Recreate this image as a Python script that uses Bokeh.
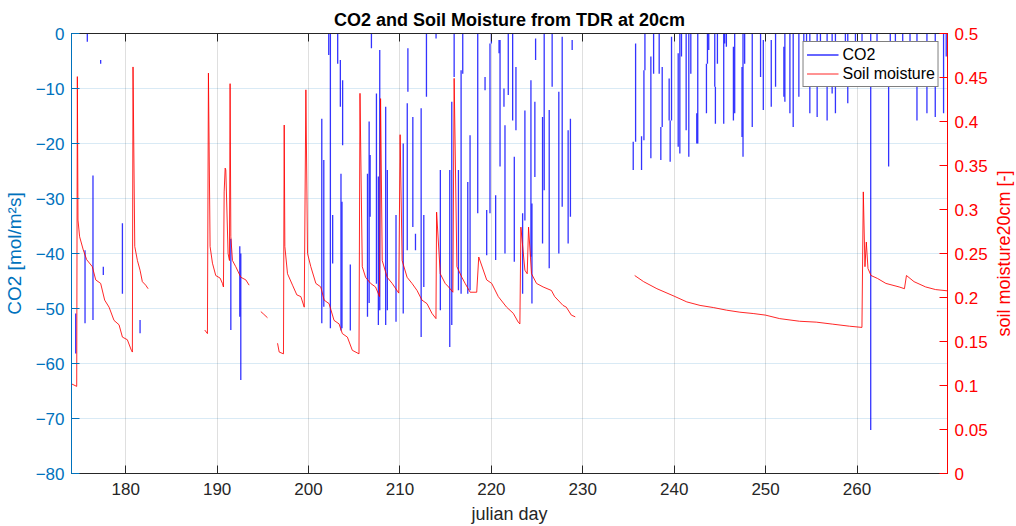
import math
from bokeh.plotting import figure
from bokeh.layouts import row
from bokeh.models import (Range1d, LinearAxis, FixedTicker, NumeralTickFormatter,
                          Legend, LegendItem, ColumnDataSource, Title)
from bokeh.embed import file_html
from bokeh.resources import INLINE

nan = float("nan")

# ---------------- data ----------------
# CO2 flux: each recorded burst shown as a vertical excursion (day, lowest, highest)
co2_day = [174.53, 175.55, 175.80, 176.42, 177.26, 177.55, 179.64, 181.57, 191.50, 192.48,
           192.59, 201.45, 201.67, 202.21, 202.39, 202.64, 203.19, 203.48, 203.55, 203.66,
           203.73, 204.57, 206.45, 206.63, 206.74, 206.88, 207.43, 207.64, 207.79, 208.44,
           208.62, 209.57, 210.36, 210.80, 210.87, 211.41, 211.70, 212.32, 212.61, 212.90,
           213.95, 214.42, 215.45, 215.67, 215.93, 216.40, 216.69, 216.87, 217.42, 217.67,
           218.51, 219.31, 219.49, 219.85, 220.00, 220.47, 220.84, 220.95, 221.38, 221.49,
           221.85, 222.33, 222.51, 222.69, 223.42, 223.67, 224.33, 224.44, 224.76, 224.84,
           225.60, 225.78, 226.33, 226.65, 227.38, 227.75, 228.40, 228.65, 228.84,
           235.52, 235.78, 236.43, 236.69, 236.80, 237.45, 237.75, 238.36, 238.54, 238.69,
           239.45, 239.56, 239.71, 240.44, 240.62, 240.80, 241.31, 241.60, 241.82, 242.47,
           242.58, 243.53, 243.64, 243.78, 244.44, 244.51, 244.73, 245.42, 245.53, 245.71,
           246.48, 246.62, 247.42, 247.53, 247.71, 248.54, 249.45, 249.75, 250.62, 251.09,
           252.00, 252.11, 252.66, 253.02, 253.64, 254.18, 254.48, 254.84, 255.64, 256.00,
           256.73, 257.28, 257.64, 258.73, 258.99, 259.83, 260.55, 261.50, 262.19, 263.46,
           263.64, 264.20, 265.00, 265.80, 266.56, 267.65, 268.56, 269.47, 269.76]
co2_low = [-58.2, -52.7, -1.5, -52.1, -5.5, -43.9, -47.3, -54.5, -53.9, -51.5,
           -63.0, -52.7, -49.7, -3.9, -53.6, -41.8, -5.5, -13.3, -54.0, -53.6,
           -20.3, -54.0, -51.5, -49.0, -33.3, -2.7, -45.5, -53.0, -50.3, -53.0,
           -50.3, -52.4, -50.9, -39.4, -10.6, -35.2, -39.4, -55.2, -46.1, -11.5,
           -0.9, -50.3, -57.0, -53.0, -7.9, -46.7, -47.3, -7.3, -47.3, -46.7,
           -32.7, -10.3, -40.3, -32.7, -1.8, -41.2, -3.6, -24.2, -13.3, -40.0,
           -11.2, -15.8, -41.5, -17.6, -47.3, -34.0, -40.6, -49.1, -26.1, -4.8,
           -38.2, -28.5, -42.7, -9.7, -40.0, -31.5, -38.2, -33.3, -3.0,
           -24.8, -19.7, -24.8, -19.4, -6.7, -22.7, -7.3, -7.3, -23.0, -17.0,
           -15.8, -23.3, -15.8, -20.6, -21.8, -4.2, -17.6, -22.4, -7.3, -20.0,
           -20.0, -14.5, -5.5, -3.0, -9.7, -16.4, -5.5, -16.4, -1.8, -2.4,
           -15.8, -14.5, -18.8, -22.4, -5.5, -17.0, -7.9, -13.9, -13.3, -9.7,
           -11.5, -12.4, -14.5, -17.0, -11.5, -9.7, -6.7, -14.5, -15.2, -9.1,
           -15.8, -10.9, -14.5, -9.1, -12.7, -9.7, -9.7, -72.1, -9.7, -24.2,
           -8.5, -3.0, -2.4, -3.0, -15.8, -14.5, -15.2, -14.5, -4.2]
co2_high = [-50.9, -39.4, 0.0, -25.8, -4.8, -42.4, -34.5, -52.1, -37.3, -38.7,
            -40.0, -15.5, -23.0, 0.0, 0.0, -33.0, 0.0, -4.8, -25.5, -30.6,
            -8.5, -42.0, -25.5, -16.0, -22.1, 0.0, -10.9, -26.0, -3.0, -13.3,
            -24.8, -33.0, -20.0, -12.7, -2.7, -15.2, -36.4, -13.6, -33.0, 0.0,
            0.0, -24.8, -24.8, -12.4, 0.0, -24.8, -6.7, 0.0, -27.0, -18.5,
            0.0, -7.9, -32.1, -1.8, 0.0, -29.4, -1.2, -1.2, -10.0, -16.7,
            0.0, 0.0, -22.4, -6.1, -32.7, -14.0, -8.5, -30.9, -12.4, -0.9,
            -15.2, 0.0, -13.9, 0.0, -10.6, -0.6, -17.6, -15.5, -1.2,
            -19.7, -1.8, -18.7, -6.7, 0.0, -4.2, 0.0, 0.0, -17.0, -6.1,
            -8.2, -15.8, -0.6, -3.6, 0.0, 0.0, 0.0, 0.0, 0.0, -14.5,
            0.0, -5.5, 0.0, 0.0, 0.0, -9.7, 0.0, 0.0, 0.0, 0.0,
            -2.4, 0.0, -6.1, 0.0, 0.0, 0.0, 0.0, -1.2, -1.2, 0.0,
            -2.4, 0.0, 0.0, 0.0, 0.0, 0.0, 0.0, 0.0, 0.0, 0.0,
            0.0, 0.0, 0.0, 0.0, 0.0, 0.0, 0.0, 0.0, 0.0, -8.5,
            0.0, 0.0, 0.0, 0.0, 0.0, 0.0, 0.0, 0.0, 0.0]

# soil moisture at 20 cm (gaps = missing data)
soil_day = [174.05, 174.64, 174.71, 174.78, 174.96, 175.36, 175.73, 176.35, 176.72, 177.26,
            177.70, 178.18, 178.72, 179.27, 179.64, 180.18, 180.62, 180.73, 180.80, 180.99,
            181.28, 181.57, 181.82, 182.19, 182.45, nan,
            188.65, 188.94, 189.05, 189.23, 189.49, 189.85, 190.33, 190.58, 190.69, 190.77,
            190.88, 190.95, 191.20, 191.35, 191.42, 191.50, 191.68, 192.04, 192.59, 193.14,
            193.50, nan,
            194.78, 195.10, 195.51, nan,
            196.61, 196.79, 197.26, 197.34, 197.41, 197.70, 198.25, 198.72, 199.16, 199.53,
            199.71, 199.89, 200.25, 200.80, 201.34, 201.71, 202.25, 202.79, 203.34, 203.70,
            204.25, 204.79, 205.52, 205.63, 205.88, 206.24, 206.79, 207.33, 207.77, 207.88,
            208.06, 208.60, 209.15, 209.87, 210.02, 210.24, 210.78, 211.32, 211.87, 212.41,
            212.96, 213.50, 213.94, 214.01, 214.41, 214.95, 215.32, 215.79, 215.93, 216.23,
            216.77, 217.13, 217.68, 218.40, 218.62, 219.49, 220.04, 220.76, 221.67, 222.40,
            222.94, 223.12, 223.23, 223.67, 223.92, 224.07, 224.39, 224.94, 225.66, 226.57,
            226.93, 227.84, 228.20, 228.75, 229.18, nan,
            235.68, 236.66, 238.11, 240.00, 241.38, 242.83, 244.28, 245.74, 247.19, 248.64,
            249.98, 251.54, 253.72, 255.54, 257.35, 259.17, 260.54, 260.69, 260.87, 261.02,
            261.20, 261.53, 262.25, 263.16, 264.61, 265.19, 265.41, 266.24, 267.51, 268.60,
            269.87]
soil_val = [0.102, 0.099, 0.451, 0.288, 0.269, 0.254, 0.243, 0.235, 0.220, 0.216,
            0.197, 0.189, 0.174, 0.169, 0.155, 0.152, 0.140, 0.138, 0.462, 0.258,
            0.242, 0.231, 0.218, 0.214, 0.210, nan,
            0.163, 0.159, 0.455, 0.258, 0.239, 0.225, 0.222, 0.216, 0.212, 0.320,
            0.347, 0.345, 0.250, 0.242, 0.443, 0.269, 0.242, 0.235, 0.223, 0.220,
            0.214, nan,
            0.184, 0.181, 0.177, nan,
            0.148, 0.138, 0.136, 0.396, 0.258, 0.227, 0.214, 0.203, 0.201, 0.189,
            0.436, 0.250, 0.235, 0.216, 0.212, 0.197, 0.193, 0.174, 0.170, 0.159,
            0.155, 0.140, 0.136, 0.432, 0.235, 0.223, 0.216, 0.212, 0.201, 0.426,
            0.242, 0.223, 0.216, 0.205, 0.385, 0.242, 0.223, 0.216, 0.208, 0.197,
            0.193, 0.182, 0.176, 0.297, 0.227, 0.216, 0.212, 0.206, 0.449, 0.235,
            0.223, 0.216, 0.206, 0.206, 0.246, 0.220, 0.216, 0.201, 0.189, 0.182,
            0.172, 0.170, 0.280, 0.231, 0.227, 0.280, 0.227, 0.216, 0.212, 0.208,
            0.201, 0.191, 0.189, 0.180, 0.178, nan,
            0.225, 0.218, 0.210, 0.2015, 0.195, 0.191, 0.1886, 0.1856, 0.1833, 0.1818,
            0.180, 0.176, 0.173, 0.172, 0.1697, 0.1674, 0.166, 0.320, 0.235, 0.263,
            0.233, 0.225, 0.2216, 0.216, 0.212, 0.210, 0.225, 0.218, 0.212, 0.209,
            0.2076]

x_ticks = [180, 190, 200, 210, 220, 230, 240, 250, 260]
co2_ticks = [-80, -70, -60, -50, -40, -30, -20, -10, 0]
soil_ticks = [0, 0.05, 0.1, 0.15, 0.2, 0.25, 0.3, 0.35, 0.4, 0.45, 0.5]

# ---------------- styling ----------------
FONT = "Liberation Sans"
LEFT_C = "#0072BD"
RIGHT_C = "#FF0000"
DARK = "#262626"

H = 526
STRIP_W = 26          # narrow strip on the right carrying the right-axis title
MAIN_W = 1016 - STRIP_W
BL, BR, BT, BB = 71, 42, 33, 53

p = figure(width=MAIN_W, height=H,
           x_range=Range1d(174.07, 269.9), y_range=Range1d(-80, 0),
           output_backend="svg", toolbar_location=None,
           min_border_left=BL, min_border_right=BR,
           min_border_top=BT, min_border_bottom=BB,
           background_fill_color="white", border_fill_color="white")
p.extra_y_ranges = {"soil": Range1d(0, 0.5)}
p.outline_line_color = DARK
p.outline_line_width = 1

p.title.text = "CO2 and Soil Moisture from TDR at 20cm"
p.title.align = "center"
p.title.text_font = FONT
p.title.text_font_size = "18px"
p.title.text_font_style = "bold"
p.title.text_color = "black"
p.title.standoff = 8

# bottom x axis
xa = p.xaxis[0]
xa.ticker = FixedTicker(ticks=x_ticks)
xa.axis_line_color = DARK
xa.major_tick_line_color = DARK
xa.major_tick_in = 8
xa.major_tick_out = 0
xa.minor_tick_line_color = None
xa.major_label_text_font = FONT
xa.major_label_text_font_size = "17px"
xa.major_label_text_color = DARK
xa.major_label_standoff = 9
xa.axis_label = "julian day"
xa.axis_label_text_font = FONT
xa.axis_label_text_font_size = "18px"
xa.axis_label_text_font_style = "normal"
xa.axis_label_text_color = DARK
xa.axis_label_standoff = 6

# top axis: box ticks only (drawn as minor ticks so no labels are produced)
ta = LinearAxis(ticker=FixedTicker(ticks=[], minor_ticks=x_ticks))
ta.axis_line_color = DARK
ta.major_tick_line_color = None
ta.minor_tick_line_color = DARK
ta.minor_tick_in = 8
ta.minor_tick_out = 0
ta.major_label_standoff = 0
p.add_layout(ta, "above")

# left axis
ya = p.yaxis[0]
ya.ticker = FixedTicker(ticks=co2_ticks)
ya.axis_line_color = LEFT_C
ya.major_tick_line_color = LEFT_C
ya.major_tick_in = 8
ya.major_tick_out = 0
ya.minor_tick_line_color = None
ya.major_label_text_font = FONT
ya.major_label_text_font_size = "17px"
ya.major_label_text_color = LEFT_C
ya.major_label_standoff = 7
ya.axis_label = "CO2 [mol/m\u00b2s]"
ya.axis_label_text_font = FONT
ya.axis_label_text_font_size = "19px"
ya.axis_label_text_font_style = "normal"
ya.axis_label_text_color = LEFT_C
ya.axis_label_standoff = 8

# right axis (its title sits in the strip so that it reads bottom-to-top)
ra = LinearAxis(y_range_name="soil", ticker=FixedTicker(ticks=soil_ticks),
                formatter=NumeralTickFormatter(format="0.[00]"))
ra.axis_line_color = RIGHT_C
ra.major_tick_line_color = RIGHT_C
ra.major_tick_in = 8
ra.major_tick_out = 0
ra.minor_tick_line_color = None
ra.major_label_text_font = FONT
ra.major_label_text_font_size = "17px"
ra.major_label_text_color = RIGHT_C
ra.major_label_standoff = 7
p.add_layout(ra, "right")

# grids
p.xgrid.ticker = FixedTicker(ticks=x_ticks)
p.xgrid.grid_line_color = DARK
p.xgrid.grid_line_alpha = 0.15
p.ygrid.ticker = FixedTicker(ticks=co2_ticks)
p.ygrid.grid_line_color = LEFT_C
p.ygrid.grid_line_alpha = 0.15

# data
co2_src = ColumnDataSource(dict(day=co2_day, low=co2_low, high=co2_high))
seg = p.segment(x0="day", y0="low", x1="day", y1="high", source=co2_src,
                line_color="#0000FF", line_width=1.3, line_alpha=0.8)
soil_src = ColumnDataSource(dict(day=soil_day, val=soil_val))
ln = p.line(x="day", y="val", source=soil_src, y_range_name="soil",
            line_color="#FF0000", line_width=1, line_alpha=0.85)

legend = Legend(items=[LegendItem(label="CO2", renderers=[seg]),
                       LegendItem(label="Soil moisture", renderers=[ln])],
                location="top_right")
legend.label_text_font = FONT
legend.label_text_font_size = "16px"
legend.label_text_color = "black"
legend.border_line_color = "black"
legend.border_line_width = 1
legend.background_fill_color = "white"
legend.background_fill_alpha = 1
legend.glyph_width = 32
legend.glyph_height = 19
legend.label_height = 19
legend.label_standoff = 4
legend.padding = 3
legend.spacing = 0
legend.margin = 8
p.add_layout(legend)

# strip with the right-axis title
p2 = figure(width=STRIP_W, height=H, output_backend="svg", toolbar_location=None,
            x_axis_location=None, y_axis_location=None,
            min_border_left=0, min_border_right=0,
            min_border_top=BT, min_border_bottom=BB,
            background_fill_color="white", border_fill_color="white")
p2.outline_line_color = None
p2.grid.visible = False
p2.add_layout(Title(text="soil moisture20cm [-]", align="center", text_font=FONT,
                    text_font_size="18px", text_font_style="normal",
                    text_color=RIGHT_C, standoff=2), "left")

layout = row(p, p2, spacing=0)

open("out.html", "w").write(file_html(layout, INLINE))
